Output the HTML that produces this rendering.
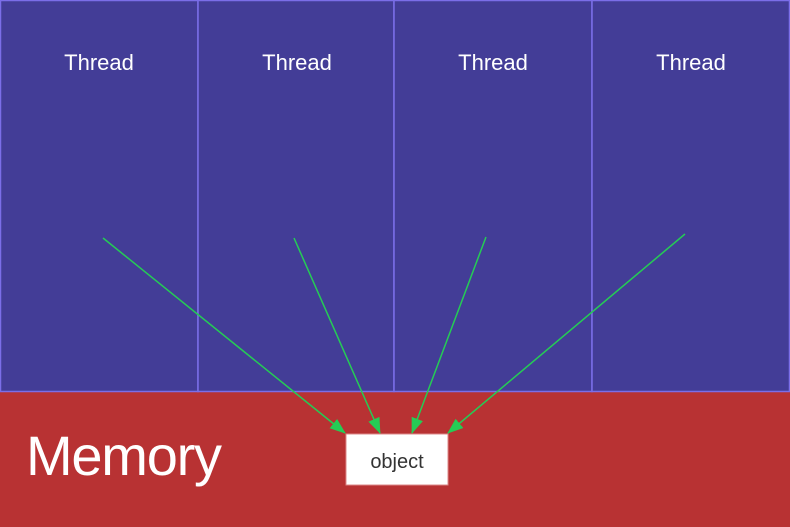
<!DOCTYPE html>
<html><head><style>
body{margin:0;width:790px;height:527px;overflow:hidden;background:#b83233;font-family:"Comic Sans MS","Liberation Sans",sans-serif}
</style></head><body>
<svg width="790" height="527" style="position:absolute;left:0;top:0">
<defs><marker id="ah" markerWidth="16" markerHeight="12" refX="15" refY="6" orient="auto" markerUnits="userSpaceOnUse"><path d="M0,0 L16,6 L0,12 z" fill="#25cc55"/></marker></defs>
<rect x="0" y="392" width="790" height="135" fill="#b83233"/>
<g><rect x="0.5" y="0.5" width="197.5" height="391" fill="#433d97" stroke="#7b6ee8" stroke-width="1.5"/><text x="99" y="70" fill="#fff" font-size="22" text-anchor="middle">Thread</text></g>
<g><rect x="198" y="0.5" width="196" height="391" fill="#433d97" stroke="#7b6ee8" stroke-width="1.5"/><text x="297" y="70" fill="#fff" font-size="22" text-anchor="middle">Thread</text></g>
<g><rect x="394" y="0.5" width="198" height="391" fill="#433d97" stroke="#7b6ee8" stroke-width="1.5"/><text x="493" y="70" fill="#fff" font-size="22" text-anchor="middle">Thread</text></g>
<g><rect x="592" y="0.5" width="197.5" height="391" fill="#433d97" stroke="#7b6ee8" stroke-width="1.5"/><text x="691" y="70" fill="#fff" font-size="22" text-anchor="middle">Thread</text></g>
<text x="26" y="475" fill="#fff" font-size="56" textLength="196">Memory</text>
<g><rect x="346" y="434" width="102" height="51" fill="#fff" stroke="#d88" stroke-width="1"/><text x="397" y="468" fill="#333" font-size="20" text-anchor="middle">object</text></g>
<g stroke="#25cc55" stroke-width="1.5" fill="none">
<line x1="103" y1="238" x2="345" y2="433" marker-end="url(#ah)"/>
<line x1="294" y1="238" x2="380" y2="433" marker-end="url(#ah)"/>
<line x1="486" y1="237" x2="412" y2="433" marker-end="url(#ah)"/>
<line x1="685" y1="234" x2="448" y2="433" marker-end="url(#ah)"/>
</g>
</svg>
</body></html>
